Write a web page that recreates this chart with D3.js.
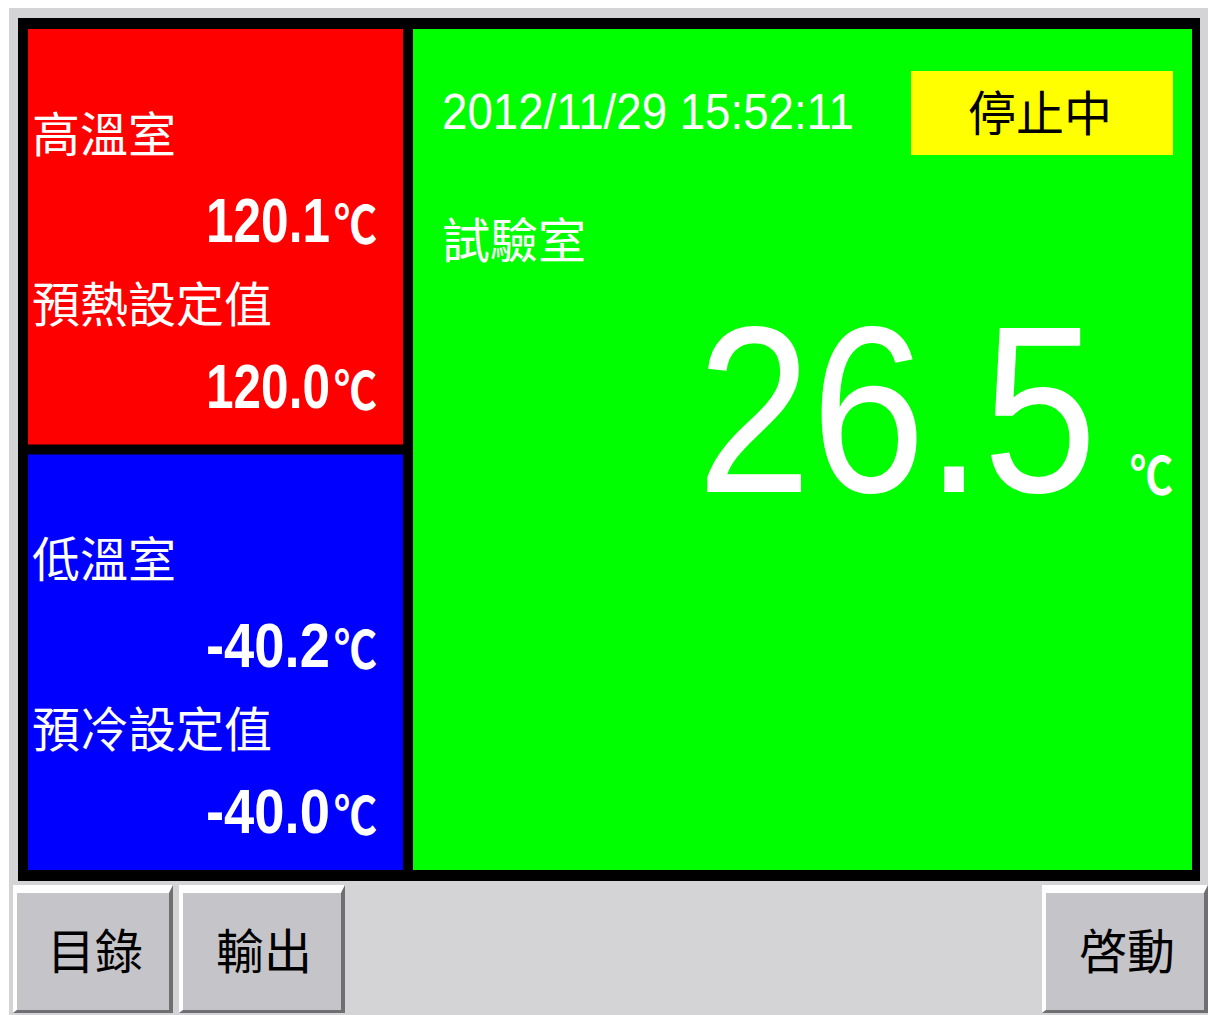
<!DOCTYPE html>
<html>
<head>
<meta charset="utf-8">
<script src="https://cdn.jsdelivr.net/npm/d3@7"></script>
<style>
  body { margin: 0; background: #fff; }
  .cjk { font-family: "Noto Sans CJK TC", "Noto Sans CJK SC", sans-serif; }
  .num { font-family: "Liberation Sans", Arial, sans-serif; }
</style>
</head>
<body>
<div id="chart"></div>
<script>
// Chart values
const chambers = ["高溫室", "低溫室"];
const chamberValues = [120.1, -40.2];
const setpointLabels = ["預熱設定值", "預冷設定值"];
const setpointValues = [120.0, -40.0];
const chamberColors = ["#ff0000", "#0000ff"];
const testLabel = "試驗室";
const testValue = 26.5;
const timestamp = "2012/11/29 15:52:11";
const status = "停止中";
const buttons = ["目錄", "輸出", "啓動"];

// Set dimensions
let width = 1208,
    height = 1015;

// Create SVG
let svg = d3.select("#chart")
    .append("svg")
        .attr("width", width)
        .attr("height", height);

// plain hyphen for negatives
let fmt = d3.formatLocale({decimal: ".", thousands: ",", grouping: [3], currency: ["", ""], minus: "-"}).format(".1f");

// Panel background
svg.append("rect")
    .attr("x", 9).attr("y", 8)
    .attr("width", width - 9).attr("height", height - 8)
    .attr("fill", "#d4d3d5");

// Black frame
svg.append("rect")
    .attr("x", 18).attr("y", 18)
    .attr("width", 1182).attr("height", 863)
    .attr("fill", "#000");

// Left chamber panels
let y = d3.scaleBand()
    .domain(chambers)
    .range([29, 870])
    .paddingInner(0.0235);

let panels = svg.selectAll(".chamber")
    .data(chambers)
    .join("g")
        .attr("class", "chamber")
        .attr("transform", d => `translate(28,${y(d)})`);

panels.append("rect")
    .attr("width", 375)
    .attr("height", y.bandwidth())
    .attr("fill", (d, i) => chamberColors[i]);

panels.append("text")
    .classed("cjk", true)
    .attr("x", 4).attr("y", 123)
    .attr("font-size", 48)
    .attr("fill", "#fff")
    .text(d => d);

panels.append("text")
    .classed("cjk", true)
    .attr("x", 4).attr("y", 293)
    .attr("font-size", 48)
    .attr("fill", "#fff")
    .text((d, i) => setpointLabels[i]);

// squeeze a number horizontally into a given width (narrow panel font)
let numberText = (sel, x, yPos, value, size, bold, w) => {
    let t = sel.append("text")
        .classed("num", true)
        .attr("font-size", size)
        .attr("font-weight", bold ? "bold" : "normal")
        .attr("fill", "#fff")
        .text(value);
    let natural = t.node().getComputedTextLength();
    t.attr("transform", `translate(${x},${yPos}) scale(${w / natural},1)`);
    return t;
};

let unitText = (sel, x, yPos) => sel.append("text")
    .classed("cjk", true)
    .attr("x", x).attr("y", yPos)
    .attr("text-anchor", "end")
    .attr("font-size", 52)
    .attr("font-weight", "bold")
    .attr("textLength", 43)
    .attr("lengthAdjust", "spacingAndGlyphs")
    .attr("fill", "#fff")
    .text("℃");

panels.each(function(d, i) {
    let g = d3.select(this);
    numberText(g, 178, 213, fmt(chamberValues[i]), 63, true, 124);
    unitText(g, 349, 215);
    numberText(g, 178, 379, fmt(setpointValues[i]), 63, true, 124);
    unitText(g, 349, 381);
});

// Test chamber panel
let main = svg.append("g").attr("transform", "translate(413,29)");

main.append("rect")
    .attr("width", 779).attr("height", 841)
    .attr("fill", "#00ff00");

main.append("text")
    .classed("num", true)
    .attr("x", 29).attr("y", 100)
    .attr("font-size", 50)
    .attr("textLength", 412)
    .attr("lengthAdjust", "spacingAndGlyphs")
    .attr("fill", "#fff")
    .text(timestamp);

main.append("rect")
    .attr("x", 498).attr("y", 42)
    .attr("width", 262).attr("height", 84)
    .attr("fill", "#ffff00");

main.append("text")
    .classed("cjk", true)
    .attr("x", 627).attr("y", 102)
    .attr("text-anchor", "middle")
    .attr("font-size", 48)
    .attr("fill", "#000")
    .text(status);

main.append("text")
    .classed("cjk", true)
    .attr("x", 29).attr("y", 229)
    .attr("font-size", 48)
    .attr("fill", "#fff")
    .text(testLabel);

numberText(main, 284, 463, fmt(testValue), 238, false, 400);
unitText(main, 760, 466);

// Buttons
let buttonBoxes = [[13, 173], [179, 345], [1042, 1208]];
let by0 = 885, by1 = 1013, dl = 4, dt = 8, dr = 4, db = 3;

let btn = svg.selectAll(".button")
    .data(buttons)
    .join("g")
        .attr("class", "button");

btn.append("rect")
    .attr("x", (d, i) => buttonBoxes[i][0])
    .attr("y", by0)
    .attr("width", (d, i) => buttonBoxes[i][1] - buttonBoxes[i][0])
    .attr("height", by1 - by0)
    .attr("fill", "#c5c4c8");

btn.append("polygon")
    .attr("fill", "#fff")
    .attr("points", (d, i) => {
        let [x0, x1] = buttonBoxes[i];
        return [[x0, by0], [x1, by0], [x1 - dr, by0 + dt], [x0 + dl, by0 + dt], [x0 + dl, by1 - db], [x0, by1]].join(" ");
    });

btn.append("polygon")
    .attr("fill", "#6f6f72")
    .attr("points", (d, i) => {
        let [x0, x1] = buttonBoxes[i];
        return [[x1, by0], [x1, by1], [x0, by1], [x0 + dl, by1 - db], [x1 - dr, by1 - db], [x1 - dr, by0 + dt]].join(" ");
    });

btn.append("text")
    .classed("cjk", true)
    .attr("x", (d, i) => (buttonBoxes[i][0] + buttonBoxes[i][1]) / 2 + 2)
    .attr("y", 969)
    .attr("text-anchor", "middle")
    .attr("font-size", 48)
    .attr("fill", "#000")
    .text(d => d);
</script>
</body>
</html>
